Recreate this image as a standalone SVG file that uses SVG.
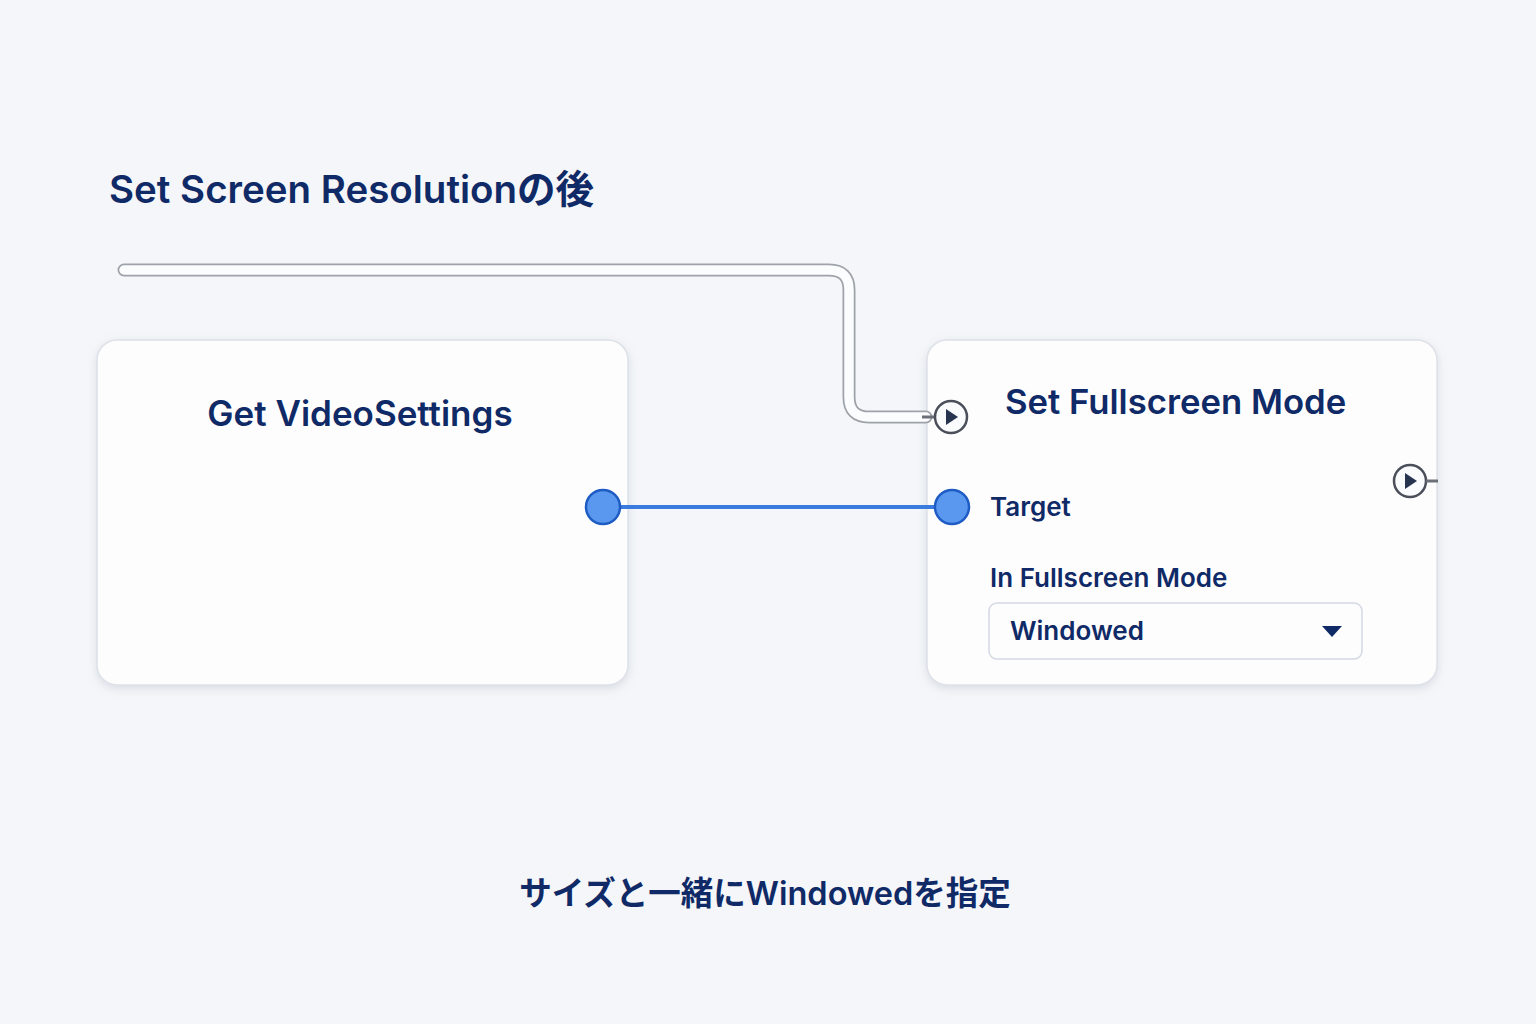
<svg xmlns="http://www.w3.org/2000/svg" width="1536" height="1024" viewBox="0 0 1536 1024">
<defs>
<filter id="sh" x="-10%" y="-10%" width="120%" height="125%">
<feDropShadow dx="0" dy="3" stdDeviation="4" flood-color="#8a93a6" flood-opacity="0.25"/>
</filter>
<style>
.t{font-family:Inter,"Noto Sans","Noto Sans CJK JP",sans-serif;fill:#0f2a66;font-weight:600}
.node{fill:#fdfdfe;stroke:#dde1e8;stroke-width:1.5}
.pin{fill:#5a98f0;stroke:#1e5cc4;stroke-width:2.5}
.exec{fill:#fafbfc;stroke:#4a4f5a;stroke-width:2.5}
.tri{fill:#27344f}
</style>
</defs>
<rect width="1536" height="1024" fill="#f4f6f9"/>
<text class="t" x="109" y="203" font-size="38.5">Set Screen Resolutionの後</text>
<g id="get-videosettings">
<rect class="node" x="97" y="340" width="531" height="345" rx="20" filter="url(#sh)"/>
<text class="t" x="360" y="426" font-size="35" text-anchor="middle">Get VideoSettings</text>
</g>
<g id="set-fullscreen-mode">
<rect class="node" x="927" y="340" width="510" height="345" rx="20" filter="url(#sh)"/>
<text class="t" x="1005" y="414" font-size="34.7">Set Fullscreen Mode</text>
<text class="t" x="990" y="516" font-size="26">Target</text>
<text class="t" x="990" y="587" font-size="26">In Fullscreen Mode</text>
<rect x="989" y="603" width="373" height="56" rx="8" fill="#fdfdfe" stroke="#d3d8e2" stroke-width="1.5"/>
<text class="t" x="1010" y="640" font-size="26">Windowed</text>
<path d="M1322,626 L1342,626 L1332,637 Z" fill="#0f2a66"/>
</g>
<g id="connectors">
<path d="M124,270 H829 Q849,270 849,290 V397 Q849,417 869,417 H926" fill="none" stroke="#9ea2a9" stroke-width="13" stroke-linecap="round"/>
<path d="M124,270 H829 Q849,270 849,290 V397 Q849,417 869,417 H926" fill="none" stroke="#fbfcfd" stroke-width="9.5" stroke-linecap="round"/>
<line x1="620" y1="507" x2="936" y2="507" stroke="#3a7be0" stroke-width="4"/>
</g>
<g id="pins">
<circle class="pin" cx="603" cy="507" r="17"/>
<line x1="922" y1="417" x2="935" y2="417" stroke="#6a6f78" stroke-width="3"/>
<circle class="exec" cx="951" cy="417" r="16"/>
<path class="tri" d="M946,409 L958,417 L946,425 Z"/>
<circle class="pin" cx="952" cy="507" r="17"/>
<circle class="exec" cx="1410" cy="481" r="16"/>
<path class="tri" d="M1405,473 L1417,481 L1405,489 Z"/>
<line x1="1426" y1="481" x2="1438" y2="481" stroke="#6a6f78" stroke-width="3"/>
</g>
<text class="t" x="765" y="905" font-size="32.5" text-anchor="middle">サイズと一緒にWindowedを指定</text>
</svg>
